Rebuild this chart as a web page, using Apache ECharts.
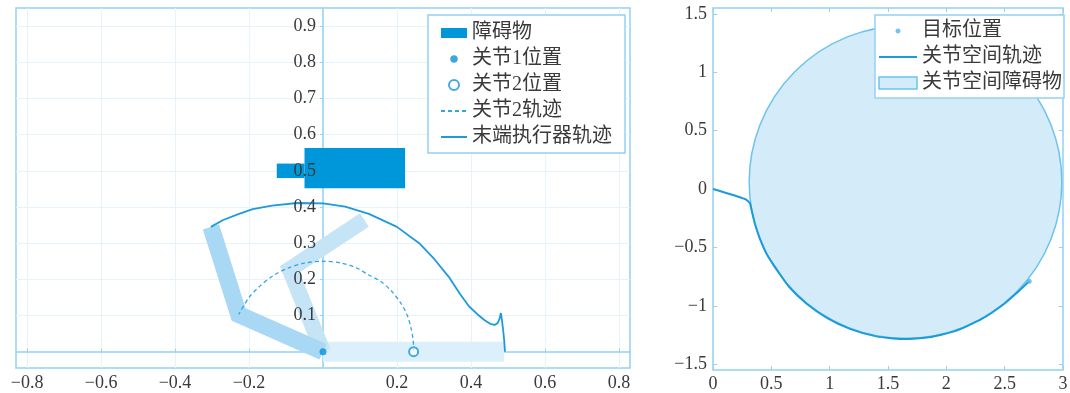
<!DOCTYPE html>
<html>
<head>
<meta charset="utf-8">
<script src="https://cdn.jsdelivr.net/npm/echarts@6/dist/echarts.min.js"></script>
<style>
  html, body { margin: 0; padding: 0; background: #fff; }
  #chart { width: 1070px; height: 393px; }
</style>
</head>
<body>
<div id="chart"></div>
<script>
// ---------- Workspace (left panel) ----------
const wsXTicks = [-0.8, -0.6, -0.4, -0.2, 0, 0.2, 0.4, 0.6, 0.8];
const wsXLabels = [-0.8, -0.6, -0.4, -0.2, 0.2, 0.4, 0.6, 0.8];
const wsYTicks = [0.1, 0.2, 0.3, 0.4, 0.5, 0.6, 0.7, 0.8, 0.9];

// obstacle rectangles: [xMin, xMax, yMin, yMax]
const obstacleRects = [
  [-0.05, 0.222, 0.452, 0.563],
  [-0.125, -0.05, 0.48, 0.52]
];

// two-link arm poses: base, elbow, tip
const armInitial = [[0, 0], [0.245, 0], [0.49, 0]];
const armMiddle = [[0, 0], [-0.09, 0.228], [0.112, 0.364]];
const armFinal = [[0, 0], [-0.228, 0.103], [-0.303, 0.345]];

const joint1Pos = [[0, 0]];
const joint2Pos = [[0.245, 0]];

const joint2Path = [
  [0.245, 0], [0.244, 0.03], [0.238, 0.065], [0.228, 0.1], [0.21, 0.135],
  [0.185, 0.168], [0.155, 0.195], [0.124, 0.212], [0.09, 0.232], [0.05, 0.245],
  [0, 0.25], [-0.05, 0.245], [-0.095, 0.231], [-0.135, 0.21], [-0.17, 0.182],
  [-0.2, 0.15], [-0.228, 0.103]
];

const effectorPath = [
  [0.492, 0], [0.49, 0.03], [0.487, 0.06], [0.484, 0.085], [0.481, 0.107],
  [0.477, 0.09], [0.472, 0.079], [0.464, 0.074], [0.452, 0.077], [0.437, 0.087],
  [0.418, 0.103], [0.395, 0.125], [0.37, 0.16], [0.34, 0.207], [0.30, 0.257],
  [0.26, 0.30], [0.2, 0.345], [0.124, 0.381], [0.06, 0.401], [0, 0.41],
  [-0.07, 0.411], [-0.138, 0.404], [-0.19, 0.394], [-0.227, 0.381],
  [-0.27, 0.364], [-0.303, 0.345]
];

// ---------- Joint space (right panel) ----------
const jsXTicks = [0, 0.5, 1, 1.5, 2, 2.5, 3];
const jsYTicks = [-1.5, -1, -0.5, 0, 0.5, 1, 1.5];

// joint-space obstacle: [centre θ1, centre θ2, radius]
const jointObstacle = [[1.65, 0.06, 1.34]];

const jointPath = [
  [0, 0], [0.274, -0.086], [0.315, -0.12], [0.335, -0.2], [0.36, -0.3],
  [0.4, -0.42], [0.46, -0.556], [0.54, -0.68], [0.65, -0.835], [0.8, -0.98],
  [0.98, -1.105], [1.18, -1.2], [1.4, -1.262], [1.62, -1.285], [1.85, -1.27],
  [2.08, -1.215], [2.3, -1.115], [2.5, -0.98], [2.62, -0.875], [2.71, -0.79]
];

const targetPos = [[2.71, -0.79]];

// ---------- layout & styling ----------
const wsGrid = { left: 16, right: 440, top: 8, bottom: 25 };
const wsXRange = [-0.83, 0.83];
const wsYRange = [-0.045, 0.95];
const wsGridWidth = 1070 - wsGrid.left - wsGrid.right;
// shift the left y axis so it sits on x = 0
const wsYAxisOffset = -(0 - wsXRange[0]) / (wsXRange[1] - wsXRange[0]) * wsGridWidth;

const numFont = "'Liberation Serif', 'DejaVu Serif', serif";
const txtFont = "'Liberation Serif', 'Noto Sans CJK SC', serif";
const frameColor = '#92d2f3';
const gridLineColor = '#e6f3fb';
const textColor = '#3a3a3a';
const minusFmt = v => (v < 0 ? '\u2212' + Math.abs(v) : String(v));

// small centred dot icons for the legend (degenerate corner segments fix the icon box)
const dotIcon = (w, h, r) => {
  const cx = w / 2, cy = h / 2, k = r * 0.5523;
  return 'path://M0,0L0,0M' + w + ',' + h + 'L' + w + ',' + h +
    'M' + cx + ',' + (cy - r) +
    'C' + (cx + k) + ',' + (cy - r) + ' ' + (cx + r) + ',' + (cy - k) + ' ' + (cx + r) + ',' + cy +
    'C' + (cx + r) + ',' + (cy + k) + ' ' + (cx + k) + ',' + (cy + r) + ' ' + cx + ',' + (cy + r) +
    'C' + (cx - k) + ',' + (cy + r) + ' ' + (cx - r) + ',' + (cy + k) + ' ' + (cx - r) + ',' + cy +
    'C' + (cx - r) + ',' + (cy - k) + ' ' + (cx - k) + ',' + (cy - r) + ' ' + cx + ',' + (cy - r) + 'Z';
};
const noSymbol = { opacity: 0 };

const chart = echarts.init(document.getElementById('chart'), null, { renderer: 'canvas' });

const option = {
  animation: false,
  backgroundColor: '#fff',
  grid: [
    Object.assign({ show: true, borderColor: frameColor, borderWidth: 1.5, backgroundColor: 'transparent', outerBoundsMode: 'none', containLabel: false }, wsGrid),
    { left: 713, right: 7, top: 8, bottom: 23, show: true, borderColor: frameColor, borderWidth: 1.5, backgroundColor: 'transparent', outerBoundsMode: 'none', containLabel: false }
  ],
  xAxis: [
    {
      gridIndex: 0, type: 'value', min: wsXRange[0], max: wsXRange[1], position: 'bottom',
      axisLine: { show: false, onZero: false },
      axisTick: { show: false, customValues: wsXTicks },
      axisLabel: { customValues: wsXLabels, formatter: minusFmt, margin: 6, fontSize: 18, fontFamily: numFont, color: textColor },
      splitLine: { show: true, lineStyle: { color: gridLineColor, width: 1 } }
    },
    {
      gridIndex: 1, type: 'value', min: 0, max: 3, interval: 0.5, position: 'bottom',
      axisLine: { show: false, onZero: false },
      axisTick: { show: true, inside: true, length: 4, lineStyle: { color: frameColor } },
      axisLabel: { formatter: minusFmt, margin: 5, fontSize: 18, fontFamily: numFont, color: textColor },
      splitLine: { show: false }
    },
    // horizontal axis line through y = 0 in the workspace panel
    {
      gridIndex: 0, type: 'value', min: wsXRange[0], max: wsXRange[1], position: 'bottom',
      axisLine: { show: true, onZero: true, lineStyle: { color: frameColor, width: 1.5 } },
      axisTick: { show: true, inside: true, length: 3, customValues: wsXTicks, lineStyle: { color: frameColor } },
      axisLabel: { show: false },
      splitLine: { show: false }
    },
    // tick marks along the top edge of the joint-space panel
    {
      gridIndex: 1, type: 'value', min: 0, max: 3, interval: 0.5, position: 'top',
      axisLine: { show: false, onZero: false },
      axisTick: { show: true, inside: true, length: 4, lineStyle: { color: frameColor } },
      axisLabel: { show: false },
      splitLine: { show: false }
    }
  ],
  yAxis: [
    // vertical axis line on x = 0 and horizontal grid lines (below the marks)
    {
      gridIndex: 0, type: 'value', min: wsYRange[0], max: wsYRange[1],
      position: 'left', offset: wsYAxisOffset,
      axisLine: { show: true, onZero: false, lineStyle: { color: frameColor, width: 1.5 } },
      axisTick: { show: true, length: 3, customValues: wsYTicks, lineStyle: { color: frameColor } },
      axisLabel: { show: false },
      splitLine: { show: true, lineStyle: { color: gridLineColor, width: 1 } }
    },
    {
      gridIndex: 1, type: 'value', min: -1.55, max: 1.55,
      axisLine: { show: false, onZero: false },
      axisTick: { show: true, inside: true, length: 4, customValues: jsYTicks, lineStyle: { color: frameColor } },
      axisLabel: { customValues: jsYTicks, formatter: minusFmt, margin: 6, fontSize: 18, fontFamily: numFont, color: textColor },
      splitLine: { show: false }
    },
    // tick marks along the right edge of the joint-space panel
    {
      gridIndex: 1, type: 'value', min: -1.55, max: 1.55, position: 'right',
      axisLine: { show: false, onZero: false },
      axisTick: { show: true, inside: true, length: 4, customValues: jsYTicks, lineStyle: { color: frameColor } },
      axisLabel: { show: false },
      splitLine: { show: false }
    },
    // workspace tick labels, drawn above the obstacle
    {
      gridIndex: 0, type: 'value', min: wsYRange[0], max: wsYRange[1], z: 10,
      position: 'left', offset: wsYAxisOffset,
      axisLine: { show: false, onZero: false },
      axisTick: { show: false, customValues: wsYTicks },
      axisLabel: { customValues: wsYTicks, margin: 7, fontSize: 18, fontFamily: numFont, color: textColor },
      splitLine: { show: false }
    }
  ],
  legend: [
    {
      left: 428, top: 15, orient: 'vertical',
      itemWidth: 26, itemHeight: 10, itemGap: 6,
      padding: [8, 13, 6, 12],
      borderColor: frameColor, borderWidth: 1.5, backgroundColor: '#fff',
      selectedMode: false,
      textStyle: { fontSize: 20, fontFamily: txtFont, color: textColor },
      data: [
        { name: '障碍物', icon: 'rect', itemStyle: { color: '#0096da' } },
        { name: '关节1位置', icon: dotIcon(26, 10, 3.8) },
        { name: '关节2位置', icon: 'emptyCircle' },
        { name: '关节2轨迹', itemStyle: noSymbol },
        { name: '末端执行器轨迹', itemStyle: noSymbol }
      ]
    },
    {
      left: 875, top: 15, orient: 'vertical',
      itemWidth: 38, itemHeight: 12, itemGap: 6,
      padding: [6, 2, 5, 3],
      borderColor: frameColor, borderWidth: 1.5, backgroundColor: '#fff',
      selectedMode: false,
      textStyle: { fontSize: 20, fontFamily: txtFont, color: textColor },
      data: [
        { name: '目标位置', icon: dotIcon(38, 12, 2.5) },
        { name: '关节空间轨迹', itemStyle: noSymbol },
        { name: '关节空间障碍物', icon: 'rect', itemStyle: { color: '#d4ecf9', borderColor: '#6cc3ee', borderWidth: 1.5 } }
      ]
    }
  ],
  series: [
    // arm poses (thick translucent links)
    {
      name: 'arm-initial', type: 'line', xAxisIndex: 0, yAxisIndex: 0, data: armInitial,
      symbol: 'none', z: 1, silent: true,
      lineStyle: { color: '#dcf0fb', width: 20, cap: 'butt', join: 'miter' }
    },
    {
      name: 'arm-middle', type: 'line', xAxisIndex: 0, yAxisIndex: 0, data: armMiddle,
      symbol: 'none', z: 1, silent: true,
      lineStyle: { color: '#c5e5f7', width: 16, cap: 'butt', join: 'miter' }
    },
    {
      name: 'arm-final', type: 'line', xAxisIndex: 0, yAxisIndex: 0, data: armFinal,
      symbol: 'none', z: 1, silent: true,
      lineStyle: { color: '#a8d8f3', width: 17, cap: 'butt', join: 'miter' }
    },
    // workspace obstacle
    {
      name: '障碍物', type: 'custom', xAxisIndex: 0, yAxisIndex: 0, z: 3,
      data: obstacleRects,
      encode: { x: [0, 1], y: [2, 3] },
      itemStyle: { color: '#0096da' },
      renderItem: (params, api) => {
        const p0 = api.coord([api.value(0), api.value(3)]);
        const p1 = api.coord([api.value(1), api.value(2)]);
        return {
          type: 'rect',
          shape: { x: p0[0], y: p0[1], width: p1[0] - p0[0], height: p1[1] - p0[1] },
          style: { fill: '#0096da' }
        };
      }
    },
    {
      name: '关节2轨迹', type: 'line', xAxisIndex: 0, yAxisIndex: 0, data: joint2Path,
      symbol: 'none', smooth: 0.3, z: 4,
      lineStyle: { color: '#33a6e2', width: 1.3, type: [4, 3] },
      itemStyle: { color: '#33a6e2' }
    },
    {
      name: '末端执行器轨迹', type: 'line', xAxisIndex: 0, yAxisIndex: 0, data: effectorPath,
      symbol: 'none', z: 4,
      lineStyle: { color: '#1c9bdc', width: 1.8 },
      itemStyle: { color: '#1c9bdc' }
    },
    {
      name: '关节1位置', type: 'scatter', xAxisIndex: 0, yAxisIndex: 0, data: joint1Pos,
      symbol: 'circle', symbolSize: 7, z: 6,
      itemStyle: { color: '#0a90d8' }
    },
    {
      name: '关节2位置', type: 'scatter', xAxisIndex: 0, yAxisIndex: 0, data: joint2Pos,
      symbol: 'emptyCircle', symbolSize: 9, z: 6,
      itemStyle: { color: '#1596da', borderWidth: 2.5 }
    },
    // joint space
    {
      name: '关节空间障碍物', type: 'custom', xAxisIndex: 1, yAxisIndex: 1, z: 2,
      data: jointObstacle,
      encode: { x: 0, y: 1 },
      itemStyle: { color: '#d4ecf9', borderColor: '#6cc3ee', borderWidth: 1.5 },
      renderItem: (params, api) => {
        const c = api.coord([api.value(0), api.value(1)]);
        const r = api.size([api.value(2), 0])[0];
        return {
          type: 'circle',
          shape: { cx: c[0], cy: c[1], r: r },
          style: { fill: '#d4ecf9', stroke: '#6cc3ee', lineWidth: 1.5 }
        };
      }
    },
    {
      name: '关节空间轨迹', type: 'line', xAxisIndex: 1, yAxisIndex: 1, data: jointPath,
      symbol: 'none', smooth: 0.2, z: 4,
      lineStyle: { color: '#1c9bdc', width: 2 },
      itemStyle: { color: '#1c9bdc' }
    },
    {
      name: '目标位置', type: 'scatter', xAxisIndex: 1, yAxisIndex: 1, data: targetPos,
      symbol: 'circle', symbolSize: 5, z: 5,
      itemStyle: { color: '#4fb5ea' }
    }
  ]
};

chart.setOption(option);
</script>
</body>
</html>
